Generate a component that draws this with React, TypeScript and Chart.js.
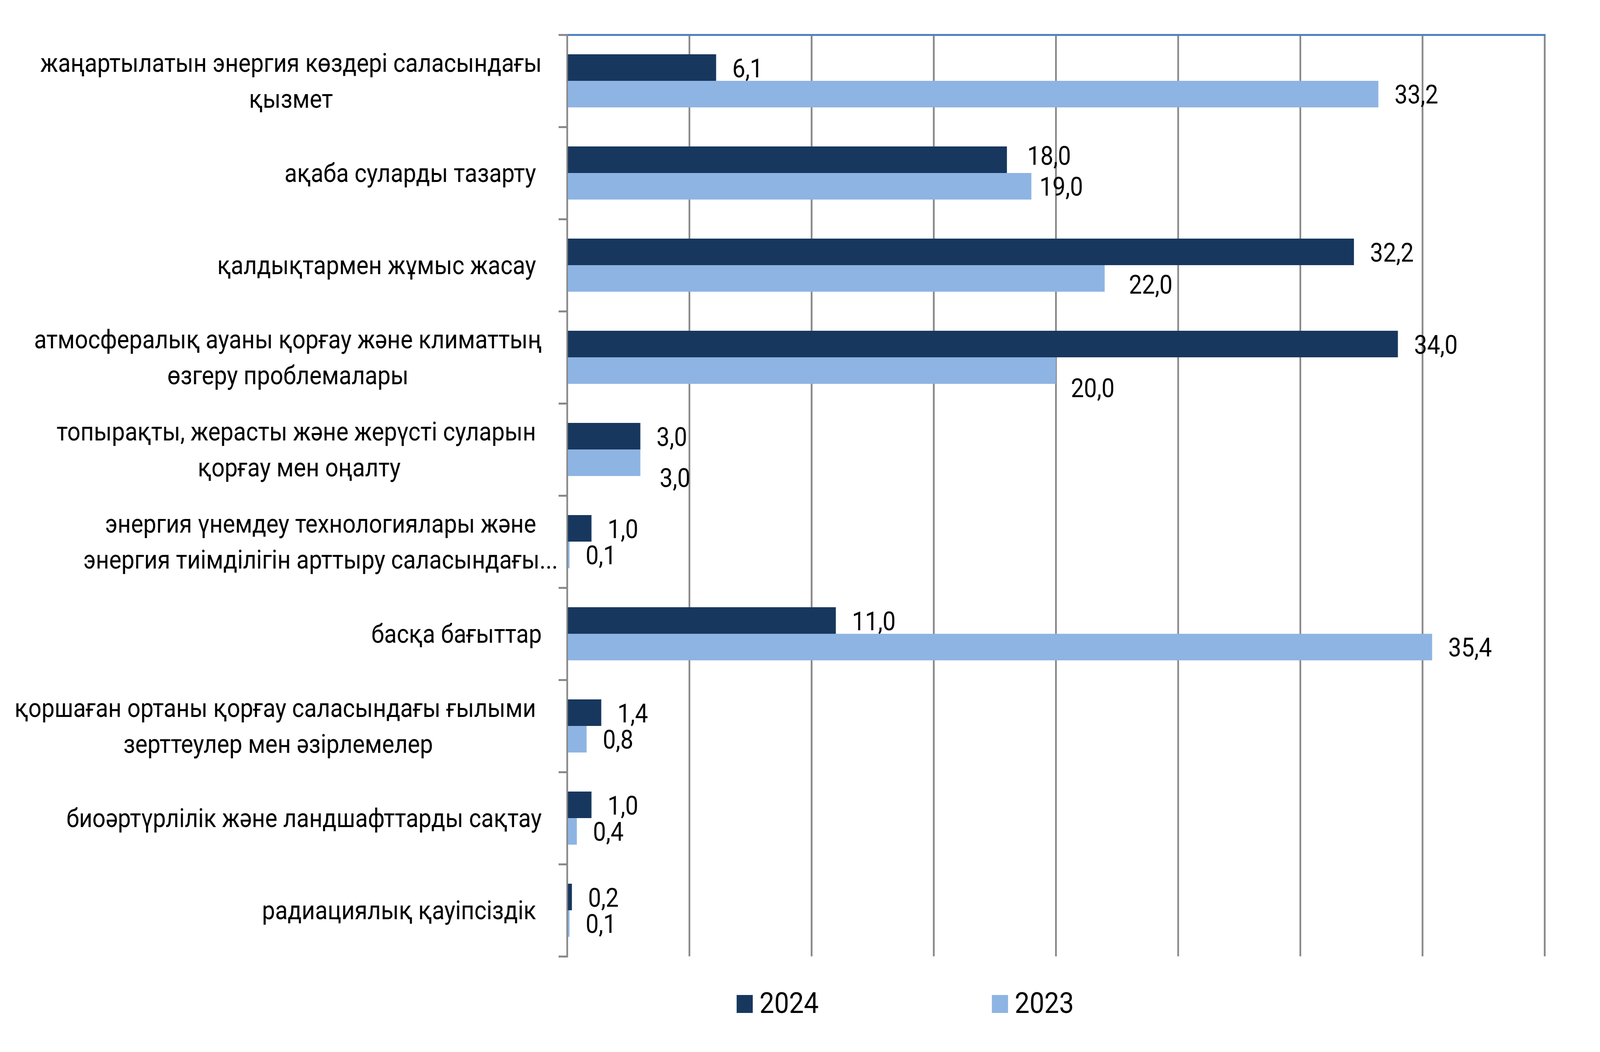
import React, { useEffect, useRef } from "react";
import { Chart, registerables } from "chart.js";

Chart.register(...registerables);

const categories: string[][] = [
  ["жаңартылатын энергия көздері саласындағы", "қызмет"],
  ["ақаба суларды тазарту "],
  ["қалдықтармен жұмыс жасау "],
  ["атмосфералық ауаны қорғау және климаттың", "өзгеру проблемалары"],
  ["топырақты, жерасты және жерүсті суларын ", "қорғау мен оңалту"],
  ["энергия үнемдеу технологиялары және", "энергия тиімділігін арттыру саласындағы..."],
  ["басқа бағыттар"],
  ["қоршаған ортаны қорғау саласындағы ғылыми ", "зерттеулер мен әзірлемелер"],
  ["биоәртүрлілік және ландшафттарды сақтау"],
  ["радиациялық қауіпсіздік "],
];

const seriesNames: string[] = ["2024", "2023"];
const values2024: number[] = [6.1, 18.0, 32.2, 34.0, 3.0, 1.0, 11.0, 1.4, 1.0, 0.2];
const values2023: number[] = [33.2, 19.0, 22.0, 20.0, 3.0, 0.1, 35.4, 0.8, 0.4, 0.1];

const xMin = 0;
const xMax = 40;
const xStep = 5;

// drawing frame (the reference size); the canvas is stretched to the viewport
const FRAME_W = 4557;
const FRAME_H = 2694;

// styling
const COLORS = ["#17375E", "#8EB4E3"];
const GRID = "#898989";
const TOP_LINE = "#4F81BD";
const FONT = "Roboto, 'Noto Sans', sans-serif";
const LABEL_SIZE = 66;
const LEGEND_SIZE = 75;
const LINE_H = 92;
const LABEL_GAP = 72;
const LABEL_DY = 6;
const VALUE_GAP = 46;
const VALUE_DY = 8;
// per-category label shift (px)
const LABEL_SHIFT: Record<number, number> = { 5: 46 };
// manual value-label nudges (px) "dataset-index" -> [dx, dy]
const NUDGE: Record<string, [number, number]> = {
  "0-1": [12, -12],
  "1-1": [-23, 0],
  "1-2": [23, 15],
  "1-3": [-3, 44],
  "1-4": [9, 38],
};

const fmt = (v: number) => v.toFixed(1).replace(".", ",");

const annotate = {
  id: "annotate",
  afterDraw(chart: any) {
    const ctx: CanvasRenderingContext2D = chart.ctx;
    const { left } = chart.chartArea;
    const yScale = chart.scales.y;
    ctx.save();
    ctx.fillStyle = "#000000";
    ctx.textBaseline = "middle";
    ctx.font = `${LABEL_SIZE}px ${FONT}`;

    // category labels: block right-aligned to the axis, lines centred in block
    (chart.data.labels as string[][]).forEach((lines, i) => {
      const yc = yScale.getPixelForValue(i) + LABEL_DY;
      const widths = lines.map((l) => ctx.measureText(l).width);
      const block = Math.max(...widths);
      const cx = left - LABEL_GAP - block / 2 + (LABEL_SHIFT[i] || 0);
      ctx.textAlign = "center";
      lines.forEach((l, j) => {
        ctx.fillText(l, cx, yc + (j - (lines.length - 1) / 2) * LINE_H);
      });
    });

    // value labels
    ctx.textAlign = "left";
    chart.data.datasets.forEach((ds: any, di: number) => {
      const meta = chart.getDatasetMeta(di);
      meta.data.forEach((bar: any, i: number) => {
        const n = NUDGE[`${di}-${i}`] || [0, 0];
        ctx.fillText(fmt(ds.data[i]), bar.x + VALUE_GAP + n[0], bar.y + VALUE_DY + n[1]);
      });
    });

    // legend
    const legendX = [2098, 2825];
    const legendY = chart.chartArea.bottom + 122;
    const box = 46;
    ctx.font = `${LEGEND_SIZE}px ${FONT}`;
    chart.data.datasets.forEach((ds: any, di: number) => {
      const x = legendX[di];
      ctx.fillStyle = ds.backgroundColor;
      ctx.fillRect(x, legendY - box / 2, box, box);
      ctx.fillStyle = "#000000";
      ctx.fillText(ds.label, x + box + 19, legendY + 4);
    });
    ctx.restore();
  },
};

export default function App() {
  const ref = useRef<HTMLCanvasElement>(null);
  useEffect(() => {
    if (!ref.current) return;
    const chart = new Chart(ref.current, {
      type: "bar",
      data: {
        labels: categories as any,
        datasets: [
          {
            label: seriesNames[0],
            data: values2024,
            backgroundColor: COLORS[0],
            categoryPercentage: 0.576,
            barPercentage: 1,
          },
          {
            label: seriesNames[1],
            data: values2023,
            backgroundColor: COLORS[1],
            categoryPercentage: 0.576,
            barPercentage: 1,
          },
        ],
      },
      options: {
        indexAxis: "y",
        responsive: false,
        animation: false,
        devicePixelRatio: 1,
        layout: { padding: { top: 89, right: 158, bottom: 245, left: 0 } },
        plugins: {
          legend: { display: false },
          tooltip: { enabled: false },
        },
        scales: {
          x: {
            position: "top",
            min: xMin,
            max: xMax,
            ticks: { display: false, stepSize: xStep },
            grid: { color: GRID, lineWidth: 5, drawTicks: false },
            border: { color: TOP_LINE, width: 5 },
          },
          y: {
            position: "left",
            ticks: { display: false },
            grid: {
              drawOnChartArea: false,
              color: GRID,
              lineWidth: 5,
              tickLength: 24,
              offset: true,
            },
            border: { color: GRID, width: 5 },
            afterFit: (s: any) => {
              s.width = 1615;
            },
          },
        },
      },
      plugins: [annotate],
    } as any);
    return () => chart.destroy();
  }, []);
  return (
    <div
      style={{
        position: "fixed",
        left: 0,
        top: 0,
        width: "100vw",
        height: "100vh",
        background: "#ffffff",
      }}
    >
      <canvas
        ref={ref}
        width={FRAME_W}
        height={FRAME_H}
        style={{ width: "100%", height: "100%", display: "block" }}
      />
    </div>
  );
}
